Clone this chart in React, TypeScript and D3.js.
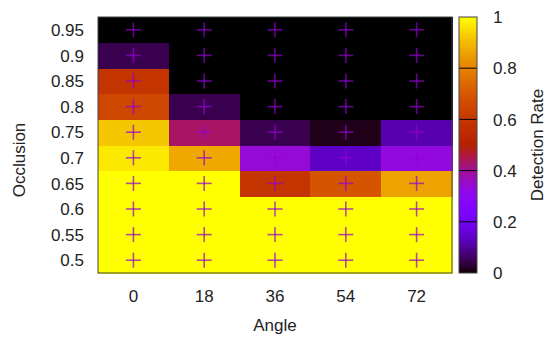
import { useEffect, useRef } from 'react'
import * as d3 from 'd3'

const ANGLES = [0, 18, 36, 54, 72]
const OCCLUSIONS = [0.5, 0.55, 0.6, 0.65, 0.7, 0.75, 0.8, 0.85, 0.9, 0.95]

// detection rate per occlusion row (bottom to top), one value per angle
const RATE_050 = [1, 1, 1, 1, 1]
const RATE_055 = [1, 1, 1, 1, 1]
const RATE_060 = [1, 1, 1, 1, 1]
const RATE_065 = [1, 1, 0.59, 0.69, 0.86]
const RATE_070 = [0.97, 0.87, 0.34, 0.14, 0.33]
const RATE_075 = [0.92, 0.435, 0.05, 0.015, 0.12]
const RATE_080 = [0.65, 0.05, 0, 0, 0]
const RATE_085 = [0.59, 0, 0, 0, 0]
const RATE_090 = [0.05, 0, 0, 0, 0]
const RATE_095 = [0, 0, 0, 0, 0]

const ROWS = [RATE_050, RATE_055, RATE_060, RATE_065, RATE_070, RATE_075, RATE_080, RATE_085, RATE_090, RATE_095]
const CB_TICKS = [0, 0.2, 0.4, 0.6, 0.8, 1]

const WIDTH = 547
const HEIGHT = 338
const PLOT = { left: 98, right: 452, top: 17, bottom: 273 }
const CB = { left: 459, right: 477 }
const FONT = '"Liberation Sans", Arial, sans-serif'
const FS = 17
const TEXT = '#222'

// gnuplot rgbformulae 7,5,15
function palette(t: number) {
  const r = Math.sqrt(t)
  const g = t * t * t
  const b = Math.max(0, Math.sin(2 * Math.PI * t))
  return d3.rgb(r * 255, g * 255, b * 255).formatHex()
}

export default function App() {
  const svgRef = useRef<SVGSVGElement>(null)

  useEffect(() => {
    if (!svgRef.current) return
    const svg = d3.select(svgRef.current)
    svg.selectAll('*').remove()

    const x = d3.scaleBand<number>().domain(ANGLES).range([PLOT.left, PLOT.right])
    const y = d3.scaleBand<number>().domain(OCCLUSIONS).range([PLOT.bottom, PLOT.top])
    const color = (v: number) => palette(v)

    const cells = ROWS.flatMap((row, i) =>
      row.map((v, j) => ({ angle: ANGLES[j], occ: OCCLUSIONS[i], v })))

    svg.append('g')
      .attr('shape-rendering', 'crispEdges')
      .selectAll('rect')
      .data(cells)
      .join('rect')
      .attr('x', d => x(d.angle)!)
      .attr('y', d => y(d.occ)!)
      .attr('width', x.bandwidth() + 0.5)
      .attr('height', y.bandwidth() + 0.5)
      .attr('fill', d => color(d.v))

    // plus markers at cell centres
    const half = 7.5
    const marks = svg.append('g')
      .attr('stroke', '#9400d3')
      .attr('stroke-opacity', 0.7)
      .attr('stroke-width', 1.6)
    cells.forEach(d => {
      const cx = x(d.angle)! + x.bandwidth() / 2
      const cy = y(d.occ)! + y.bandwidth() / 2
      marks.append('line').attr('x1', cx - half).attr('x2', cx + half).attr('y1', cy).attr('y2', cy)
      marks.append('line').attr('x1', cx).attr('x2', cx).attr('y1', cy - half).attr('y2', cy + half)
    })

    svg.append('rect')
      .attr('x', PLOT.left).attr('y', PLOT.top)
      .attr('width', PLOT.right - PLOT.left).attr('height', PLOT.bottom - PLOT.top)
      .attr('fill', 'none').attr('stroke', '#444').attr('stroke-width', 1)

    // tick labels
    svg.append('g')
      .selectAll('text')
      .data(ANGLES)
      .join('text')
      .attr('x', d => x(d)! + x.bandwidth() / 2)
      .attr('y', 302)
      .attr('text-anchor', 'middle')
      .attr('font-family', FONT).attr('font-size', FS).attr('fill', TEXT)
      .text(d => String(d))

    svg.append('g')
      .selectAll('text')
      .data(OCCLUSIONS)
      .join('text')
      .attr('x', 84)
      .attr('y', d => y(d)! + y.bandwidth() / 2)
      .attr('dy', '0.36em')
      .attr('text-anchor', 'end')
      .attr('font-family', FONT).attr('font-size', FS).attr('fill', TEXT)
      .text(d => String(d))

    svg.append('text')
      .attr('x', 275).attr('y', 331)
      .attr('text-anchor', 'middle')
      .attr('font-family', FONT).attr('font-size', FS).attr('fill', TEXT)
      .text('Angle')

    svg.append('text')
      .attr('transform', 'translate(25,160) rotate(-90)')
      .attr('text-anchor', 'middle')
      .attr('font-family', FONT).attr('font-size', FS).attr('fill', TEXT)
      .text('Occlusion')

    // colour box
    const cy = d3.scaleLinear().domain([0, 1]).range([PLOT.bottom, PLOT.top])
    const steps = d3.range(0, 1, 0.01)
    svg.append('g')
      .attr('shape-rendering', 'crispEdges')
      .selectAll('rect')
      .data(steps)
      .join('rect')
      .attr('x', CB.left)
      .attr('width', CB.right - CB.left)
      .attr('y', d => cy(d + 0.01))
      .attr('height', cy(0) - cy(0.01) + 0.4)
      .attr('fill', d => color(d + 0.005))

    svg.append('g')
      .selectAll('line')
      .data(CB_TICKS.slice(1, -1))
      .join('line')
      .attr('x1', CB.left).attr('x2', CB.right)
      .attr('y1', d => cy(d)).attr('y2', d => cy(d))
      .attr('stroke', '#000').attr('stroke-width', 1)

    svg.append('rect')
      .attr('x', CB.left).attr('y', PLOT.top)
      .attr('width', CB.right - CB.left).attr('height', PLOT.bottom - PLOT.top)
      .attr('fill', 'none').attr('stroke', '#444').attr('stroke-width', 1)

    svg.append('g')
      .selectAll('text')
      .data(CB_TICKS)
      .join('text')
      .attr('x', 493)
      .attr('y', d => cy(d))
      .attr('dy', '0.36em')
      .attr('font-family', FONT).attr('font-size', FS).attr('fill', TEXT)
      .text(d => d3.format('~g')(d))

    svg.append('text')
      .attr('transform', 'translate(543,145) rotate(-90)')
      .attr('text-anchor', 'middle')
      .attr('font-family', FONT).attr('font-size', FS).attr('fill', TEXT)
      .text('Detection Rate')
  }, [])

  return (
    <svg
      ref={svgRef}
      width={WIDTH}
      height={HEIGHT}
      style={{ position: 'absolute', left: 0, top: 0, background: '#fff' }}
    />
  )
}
